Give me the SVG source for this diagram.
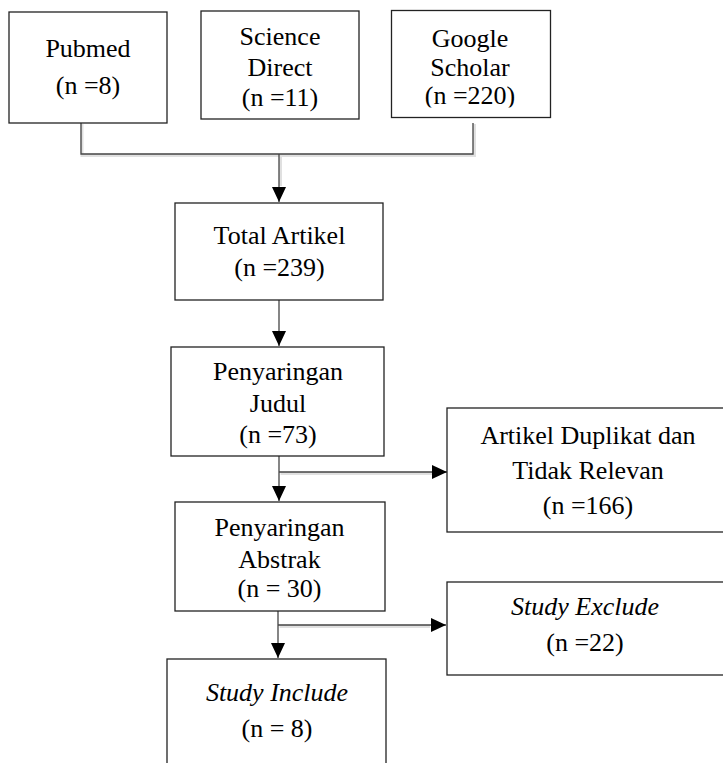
<svg xmlns="http://www.w3.org/2000/svg" width="723" height="763" viewBox="0 0 723 763">
<style>
.box{fill:#fff;stroke:#222;stroke-width:1.3}
.t{font-family:'Liberation Serif','Times New Roman',serif;font-size:26px;fill:#000;text-anchor:middle}
.i{font-style:italic}
.c{fill:none;stroke:#444;stroke-width:1.3}
.sh{fill:none;stroke:#000;stroke-opacity:0.12;stroke-width:3}
</style>
<defs>
<marker id="ah" markerWidth="15" markerHeight="14" refX="15" refY="7" orient="auto" markerUnits="userSpaceOnUse">
<path d="M0,0 L15,7 L0,14 Z" fill="#000"/>
</marker>
<clipPath id="gclip"><rect x="391" y="10" width="160" height="97.5"/></clipPath>
</defs>
<rect width="723" height="763" fill="#fff"/>

<g id="connectors">
<path class="sh" d="M82,124 V155.5 H474.5 V124 M280.5,155.5 V186"/>
<path class="sh" d="M280.5,473.5 H432 M279.5,626.5 H430"/>
<path class="c" d="M81,123 V154 H473 V123"/>
<path class="c" d="M279,154 V202" marker-end="url(#ah)"/>
<path class="c" d="M279,300 V346" marker-end="url(#ah)"/>
<path class="c" d="M279,456 V501" marker-end="url(#ah)"/>
<path class="c" d="M279,472 H447" marker-end="url(#ah)"/>
<path class="c" d="M278,611 V658" marker-end="url(#ah)"/>
<path class="c" d="M278,625 H446" marker-end="url(#ah)"/>
</g>

<g id="pubmed">
<rect class="box" x="9" y="12" width="158" height="111"/>
<text class="t" x="88" y="57">Pubmed</text>
<text class="t" x="88" y="94">(n =8)</text>
</g>
<g id="science-direct">
<rect class="box" x="201" y="11" width="158" height="108"/>
<text class="t" x="280" y="45">Science</text>
<text class="t" x="280" y="76">Direct</text>
<text class="t" x="280" y="106">(n =11)</text>
</g>
<g id="google-scholar">
<rect class="box" x="391.5" y="10.5" width="159" height="107"/>
<text class="t" x="470" y="47">Google</text>
<text class="t" x="470" y="76">Scholar</text>
<text class="t" x="470" y="104" clip-path="url(#gclip)">(n =220)</text>
</g>
<g id="total-artikel">
<rect class="box" x="175" y="203" width="208" height="97"/>
<text class="t" x="279.5" y="244">Total Artikel</text>
<text class="t" x="279.5" y="276">(n =239)</text>
</g>
<g id="penyaringan-judul">
<rect class="box" x="171" y="347" width="213" height="109"/>
<text class="t" x="278" y="380">Penyaringan</text>
<text class="t" x="278" y="412">Judul</text>
<text class="t" x="278" y="443">(n =73)</text>
</g>
<g id="artikel-duplikat">
<rect class="box" x="447" y="408" width="290" height="124"/>
<text class="t" x="588" y="444">Artikel Duplikat dan</text>
<text class="t" x="588" y="479">Tidak Relevan</text>
<text class="t" x="588" y="514">(n =166)</text>
</g>
<g id="penyaringan-abstrak">
<rect class="box" x="175" y="502" width="210" height="109"/>
<text class="t" x="279.5" y="536">Penyaringan</text>
<text class="t" x="279.5" y="568">Abstrak</text>
<text class="t" x="279.5" y="597">(n = 30)</text>
</g>
<g id="study-exclude">
<rect class="box" x="447" y="582" width="290" height="93"/>
<text class="t i" x="585" y="615">Study Exclude</text>
<text class="t" x="585" y="651">(n =22)</text>
</g>
<g id="study-include">
<rect class="box" x="167" y="659" width="219" height="120"/>
<text class="t i" x="277" y="701">Study Include</text>
<text class="t" x="277" y="737">(n = 8)</text>
</g>
</svg>
